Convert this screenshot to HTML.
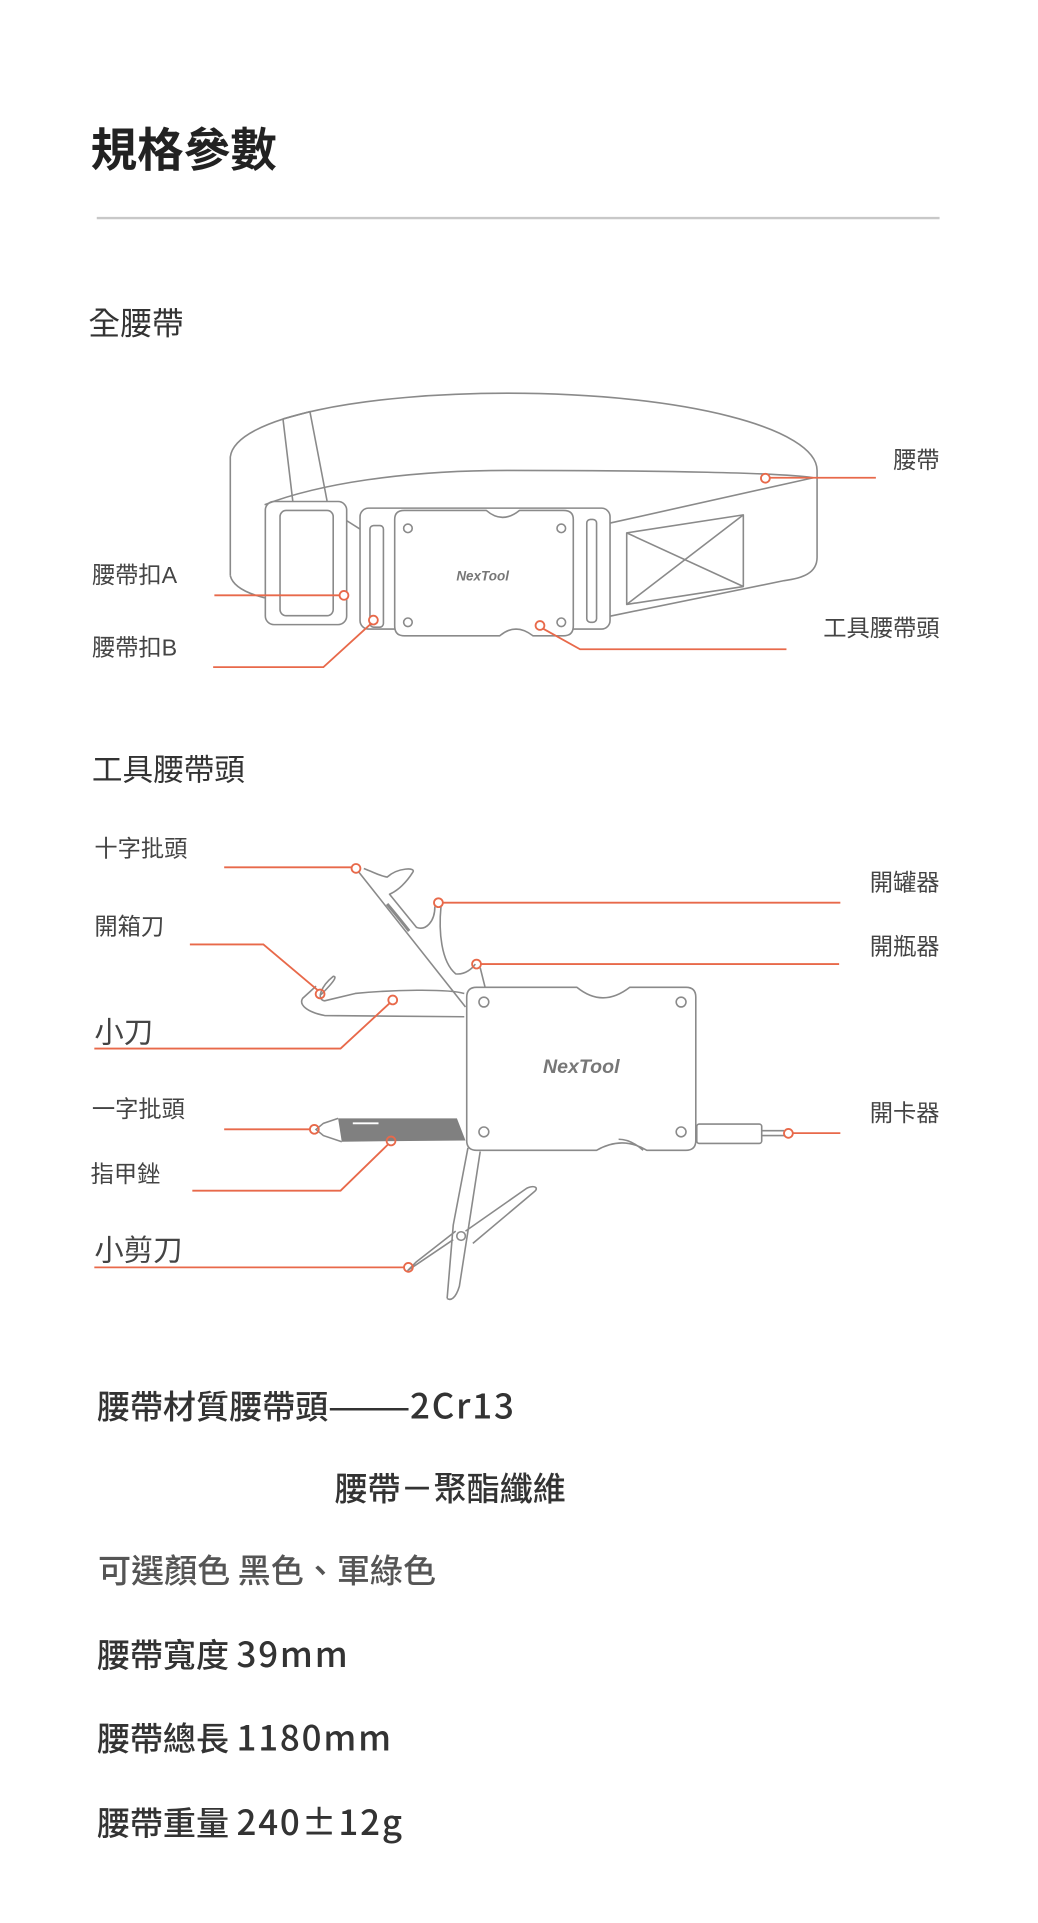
<!DOCTYPE html>
<html><head><meta charset="utf-8">
<style>
html,body{margin:0;padding:0;background:#fff;}
svg{display:block;}
text{font-family:"Liberation Sans","Noto Sans CJK TC",sans-serif;}
.cjk{font-family:"Noto Sans CJK TC",sans-serif;font-weight:500;}
.num{letter-spacing:1.5px;}
</style></head>
<body>
<svg width="1038" height="1923" viewBox="0 0 847.35 1569.8" xmlns="http://www.w3.org/2000/svg">
<rect width="847.35" height="1569.8" fill="#fff"/>
<text x="74" y="136" font-size="38" font-weight="bold" fill="#222">規格參數</text>
<line x1="79" y1="178" x2="767" y2="178" stroke="#c8c8c8" stroke-width="2"/>
<text x="72" y="273" font-size="26" fill="#333">全腰帶</text>

<g fill="none" stroke="#8a8a8a" stroke-width="1.3" stroke-linejoin="round">
  <path d="M188,470 L188,373 C192,340 300,321 414,321 C560,321 667,350 667,384 L667,455 C667,468 655,472 640,474 L498,503"/>
  <path d="M216,412 C260,395 330,384 414,384 C540,384 640,386 664,390"/>
  <path d="M188,470 C190,478 200,484 216,488"/>
  <path d="M231,342 L253,336 L267,409 M231,342 L239,409"/>
  <rect x="216.6" y="409.4" width="66.4" height="100.5" rx="7"/>
  <rect x="228.6" y="416.7" width="43.4" height="85.9" rx="5"/>
  <path d="M283,425 L294,432"/>
  <rect x="293.9" y="414.8" width="204.1" height="98.7" rx="7"/>
  <path d="M322.2,424 Q322.2,416.7 330,416.7 L397,416.7 Q410,428 424,416.7 L460,416.7 Q468,416.7 468,424 L468,511 Q468,519 460,519 L435,519 Q421,508 408,519 L330,519 Q322.2,519 322.2,511 Z" fill="#fff"/>
  <circle cx="333" cy="431.3" r="3.5"/><circle cx="458.2" cy="431.3" r="3.5"/>
  <circle cx="333" cy="508" r="3.5"/><circle cx="458.2" cy="508" r="3.5"/>
  <rect x="302" y="429" width="11" height="83" rx="3"/>
  <rect x="479" y="424" width="8" height="84" rx="3"/>
  <path d="M498,427 L664,390"/>
  <polygon points="511.6,435 606.8,420.3 606.8,478.8 511.6,493.4"/>
  <path d="M511.6,435 L606.8,478.8 M606.8,420.3 L511.6,493.4"/>
</g>
<text x="394" y="474" font-size="11" font-style="italic" font-weight="bold" fill="#777" text-anchor="middle">NexTool</text>

<g stroke="#e8694a" stroke-width="1.5" fill="none">
  <line x1="628" y1="390" x2="715" y2="390"/><circle cx="624.8" cy="390.4" r="3.6" fill="#fff"/>
  <line x1="175" y1="486" x2="277" y2="486"/><circle cx="280.8" cy="486" r="3.6" fill="#fff"/>
  <polyline points="174,544.6 264,544.6 303,509"/><circle cx="304.8" cy="506.2" r="3.6" fill="#fff"/>
  <polyline points="443,513 473.5,530 642,530"/><circle cx="440.8" cy="510.6" r="3.6" fill="#fff"/>
</g>
<g font-size="19" fill="#444">
  <text x="767" y="382" text-anchor="end">腰帶</text>
  <text x="75" y="476">腰帶扣A</text>
  <text x="75" y="535">腰帶扣B</text>
  <text x="767" y="519" text-anchor="end">工具腰帶頭</text>
</g>

<text x="75" y="637" font-size="25" fill="#333">工具腰帶頭</text>

<g fill="none" stroke="#8a8a8a" stroke-width="1.3" stroke-linejoin="round">
  <path d="M293,712 L380,822"/>
  <path d="M297,709 C305,712 310,715 316,716 C325,708 340,708 337,712 C332,720 325,727 318,730 L340,757 C348,760 355,752 355,740"/>
  <path d="M360,740 C358,760 360,785 372,795 C380,796 386,790 388,787"/>
  <path d="M392,790 L396,806"/>
  <path d="M316,738 C322,745 330,755 334,760" stroke-width="2.5"/>
  <path d="M379,811 C365,807 320,808 290,811 L265,817 C258,816 262,805 272,797 C275,797 274,800 262,812 M379,830 L265,829 C250,826 244,820 247,815 L258,805"/>
  <path d="M381,814 Q381,806 389,806 L471,806 Q492,823 514,806 L560,806 Q568,806 568,814 L568,931 Q568,939 560,939 L528,939 Q508,927 487,939 L389,939 Q381,939 381,931 Z" fill="#fff"/>
  <circle cx="395" cy="818" r="4"/><circle cx="556" cy="818" r="4"/>
  <circle cx="395" cy="924" r="4"/><circle cx="556" cy="924" r="4"/>
  <path d="M505,930 Q515,930 525,939"/>
  <rect x="568.8" y="917.6" width="53" height="15.8" rx="2"/>
  <path d="M621.8,923 L640,923 M621.8,927 L640,927"/>
  <path d="M382,937 L370,1000 L365,1060 M392,940 L382,1005 L375,1050 C372,1060 368,1062 365,1060"/>
  <path d="M380,1005 L430,970 C437,967 440,970 436,973 L386,1015"/>
  <path d="M372,1005 L340,1030 L333,1037 L370,1012"/>
  <circle cx="376.4" cy="1009" r="3.5"/>
</g>
<polygon points="276,913 373,913 380,931 279,932" fill="#808080"/>
<path d="M276,913 L264,917 L258,922 L264,927 L279,932" fill="none" stroke="#8a8a8a" stroke-width="1.3"/>
<line x1="288" y1="917" x2="309" y2="917" stroke="#fff" stroke-width="1.5"/>
<text x="474.5" y="876" font-size="16" font-style="italic" font-weight="bold" fill="#777" text-anchor="middle">NexTool</text>

<g stroke="#e8694a" stroke-width="1.5" fill="none">
  <line x1="183" y1="708" x2="287" y2="708"/><circle cx="290.6" cy="708.9" r="3.6"/>
  <line x1="361" y1="736.9" x2="686" y2="736.9"/><circle cx="357.9" cy="736.9" r="3.6"/>
  <line x1="393" y1="787" x2="685" y2="787"/><circle cx="389" cy="787" r="3.6"/>
  <polyline points="155,771 215,771 259,808"/><circle cx="261.3" cy="811.4" r="3.6"/>
  <polyline points="77,856 278,856 318,819"/><circle cx="320.6" cy="816.3" r="3.6"/>
  <line x1="183" y1="921.9" x2="253" y2="921.9"/><circle cx="256.6" cy="921.9" r="3.6"/>
  <polyline points="157,972 278,972 317,934"/><circle cx="319.2" cy="931.4" r="3.6"/>
  <line x1="77" y1="1034.6" x2="330" y2="1034.6"/><circle cx="333.4" cy="1034.6" r="3.6"/>
  <line x1="647" y1="925" x2="686" y2="925"/><circle cx="643.6" cy="925.2" r="3.6"/>
</g>
<g font-size="19" fill="#444">
  <text x="77" y="699">十字批頭</text>
  <text x="77" y="763">開箱刀</text>
  <text x="75" y="912">一字批頭</text>
  <text x="74" y="965">指甲銼</text>
  <text x="767" y="727" text-anchor="end">開罐器</text>
  <text x="767" y="779" text-anchor="end">開瓶器</text>
  <text x="767" y="915" text-anchor="end">開卡器</text>
</g>
<g font-size="24" fill="#444">
  <text x="77" y="851">小刀</text>
  <text x="77" y="1029">小剪刀</text>
</g>

<g font-size="27" fill="#333">
  <text class="cjk" x="79" y="1158">腰帶材質腰帶頭———<tspan class="num" font-size="28.5">2Cr13</tspan></text>
  <text class="cjk" x="273" y="1225">腰帶－聚酯纖維</text>
  <text class="cjk" x="80" y="1292" fill="#555">可選顏色 黑色、軍綠色</text>
  <text class="cjk" x="79" y="1361">腰帶寬度 <tspan class="num" font-size="28.5">39mm</tspan></text>
  <text class="cjk" x="79" y="1429">腰帶總長 <tspan class="num" font-size="28.5">1180mm</tspan></text>
  <text class="cjk" x="79" y="1498">腰帶重量 <tspan class="num" font-size="28.5">240±12g</tspan></text>
</g>
</svg>
</body></html>
